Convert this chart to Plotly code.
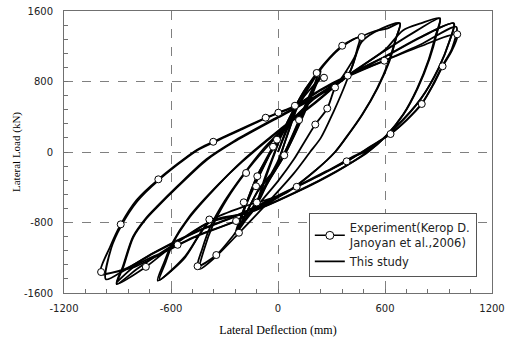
import plotly.graph_objects as go

# ---------------- data ----------------
# Experiment curve path (mm, kN)
exp_x = [0, 50, 100, 115, 85, 45, 0, -60, -110, -80, -30, 20, 80,
         150, 222, 205, 150, 90, 35, -40, -119, -235, -195, -140, -60, -28, 20, 120,
         250, 190, 118, 50, 0, -110, -230, -185, -116, -6, 100, 217,
         360, 469, 430, 370, 320, 276, 209, 150, 90, 0, -120, -220, -346, -451,
         -425, -380, -300, -200, -80, 60, 200, 391, 469, 580, 684,
         660, 620, 555, 470, 380, 320, 210, 40, -192, -385, -520, -665,
         -630, -589, -493, -325, -200, 0, 200, 391, 600, 780, 908,
         885, 845, 780, 700, 600, 500, 330, 100, -150, -385, -600, -741, -905,
         -870, -813, -740, -680, -560, -400, -250, 0, 200, 391, 600, 800, 985,
         960, 900, 800, 660, 520, 420, 250, 0, -250, -450, -700, -860, -995,
         -942, -882, -793, -671, -456, -363, -200, -69, 2, 95, 235, 391, 596, 800, 1005,
         975, 923, 870, 806, 720, 631, 520, 385, 250, 105, -80, -235, -450, -650, -800, -985]
exp_y = [0, 280, 520, 560, 380, 150, -100, -330, -540, -330, -60, 200, 450,
         700, 905, 750, 470, 190, -37, -290, -573, -920, -680, -420, -80, 60, 220, 560,
         870, 700, 363, 50, -150, -430, -900, -620, -275, 140, 480, 897,
         1206, 1305, 1080, 880, 732, 494, 312, 120, -80, -330, -620, -870, -1169, -1296,
         -1100, -850, -560, -270, 40, 330, 600, 866, 1250, 1400, 1460,
         1280, 1020, 720, 420, 160, 0, -210, -470, -620, -790, -1180, -1450,
         -1250, -1033, -734, -352, -100, 240, 550, 866, 1150, 1380, 1517,
         1330, 1050, 720, 420, 170, 0, -220, -460, -680, -800, -1080, -1303, -1495,
         -1300, -961, -750, -621, -380, -80, 120, 400, 620, 866, 1080, 1300, 1460,
         1250, 950, 600, 280, 40, -60, -250, -500, -740, -900, -1150, -1330, -1370,
         -1078, -821, -545, -310, 23, 116, 270, 389, 446, 525, 704, 866, 1036, 1200, 1336,
         1150, 973, 760, 545, 360, 204, 60, -106, -250, -395, -600, -783, -950, -1150, -1300, -1395]

# Experiment data markers
mark_x = [469, 360, 596, 1005, 923, 806, 631, 385, 391, 320, 258, 217, 276, 209, 118,
          95, 2, -69, -6, -28, 35, -363, -179, -116, -123, 105, -119, -192, -385,
          -671, -882, -992, -741, -563, -451, -346, -235, -219]
mark_y = [1305, 1206, 1036, 1336, 973, 545, 204, -106, 866, 732, 843, 897, 494, 312, 363,
          525, 446, 389, 140, 60, -37, 116, -238, -275, -389, -395, -573, -571, -766,
          -310, -821, -1362, -1303, -1053, -1296, -1169, -783, -916]

# This study (numerical model) path
st_x = [0, 60, 110, 80, 40, 0, -60, -105, -75, -25, 25, 85,
        155, 240, 210, 150, 85, 30, -50, -140, -240, -200, -145, -65, 15, 115,
        225, 190, 125, 65, -5, -115, -228, -180, -115, 0, 105, 225,
        350, 455, 430, 380, 310, 240, 180, 90, -60, -210, -350, -440,
        -415, -365, -285, -185, -70, 70, 210, 400, 469, 540, 610, 684,
        662, 625, 560, 475, 385, 320, 215, 45, -170, -380, -530, -675,
        -640, -595, -500, -330, -200, 0, 200, 395, 600, 700, 800, 908,
        890, 850, 785, 705, 605, 505, 335, 105, -145, -380, -600, -785, -905,
        -868, -812, -740, -680, -560, -400, -250, 0, 200, 395, 605, 805, 987,
        962, 903, 803, 663, 523, 423, 253, 5, -245, -445, -695, -860, -965,
        -935, -880, -790, -670, -460, -360, -200, -70, 0, 100, 240, 395, 600, 800, 1000,
        975, 925, 870, 808, 722, 633, 520, 390, 250, 105, -80, -235, -450, -650, -800, -905]
st_y = [0, 300, 540, 360, 120, -120, -350, -550, -330, -50, 220, 470,
        720, 920, 740, 450, 160, -60, -320, -620, -930, -690, -430, -100, 200, 540,
        890, 690, 380, 110, -170, -450, -890, -600, -260, 120, 490, 900,
        1180, 1300, 1060, 780, 450, 160, 0, -240, -580, -900, -1190, -1330,
        -1110, -830, -530, -240, 40, 340, 620, 900, 1300, 1370, 1400, 1460,
        1290, 1030, 730, 430, 170, 0, -200, -460, -690, -790, -1220, -1460,
        -1260, -1040, -740, -360, -110, 230, 540, 870, 1160, 1380, 1460, 1517,
        1340, 1060, 730, 430, 180, 0, -210, -450, -670, -790, -1070, -1320, -1500,
        -1310, -970, -760, -630, -390, -90, 110, 390, 610, 870, 1090, 1310, 1460,
        1260, 960, 610, 290, 50, -50, -240, -490, -730, -890, -1140, -1340, -1445,
        -1090, -840, -560, -320, 10, 110, 260, 380, 440, 520, 700, 860, 1040, 1220, 1420,
        1170, 990, 770, 555, 365, 210, 65, -100, -240, -390, -590, -780, -945, -1140, -1290, -1480]

x_ticks = [-1200, -600, 0, 600, 1200]
y_ticks = [-1600, -800, 0, 800, 1600]

exp_name = "Experiment(Kerop D.<br>Janoyan et al.,2006)"
st_name = "This study"

# ---------------- figure ----------------
fig = go.Figure()

fig.add_trace(go.Scatter(x=exp_x, y=exp_y, mode="lines", showlegend=False,
                         line=dict(color="black", width=1.8, shape="spline", smoothing=0.8),
                         hoverinfo="skip"))
fig.add_trace(go.Scatter(x=st_x, y=st_y, mode="lines", showlegend=False,
                         line=dict(color="black", width=1.8, shape="spline", smoothing=0.8),
                         hoverinfo="skip"))
fig.add_trace(go.Scatter(x=mark_x, y=mark_y, mode="markers", showlegend=False,
                         marker=dict(symbol="circle", size=7, color="white",
                                     line=dict(color="black", width=1)),
                         hoverinfo="skip"))
# legend entries
fig.add_trace(go.Scatter(x=[None], y=[None], mode="lines+markers", name=exp_name,
                         line=dict(color="black", width=1.5),
                         marker=dict(symbol="circle", size=8, color="white",
                                     line=dict(color="black", width=1))))
fig.add_trace(go.Scatter(x=[None], y=[None], mode="lines", name=st_name,
                         line=dict(color="black", width=1.8)))

axis_common = dict(
    showline=True, linecolor="#707070", linewidth=1, mirror=True,
    ticks="inside", ticklen=4, tickcolor="#707070",
    showgrid=True, gridcolor="#808080", griddash="dash", gridwidth=1,
    zeroline=False,
    tickfont=dict(family="DejaVu Sans", size=10, color="#222222"),
)

fig.update_xaxes(range=[-1200, 1200], tickvals=x_ticks,
                 ticktext=[str(v) for v in x_ticks],
                 minor=dict(dtick=120, tick0=0, ticks="inside", ticklen=4,
                            tickcolor="#707070", showgrid=False),
                 title=dict(text="Lateral Deflection (mm)",
                            font=dict(family="Liberation Serif", size=12, color="black")),
                 ticklabelstandoff=6, automargin=False,
                 **axis_common)
fig.update_yaxes(range=[-1600, 1600], tickvals=y_ticks,
                 ticktext=[str(v) for v in y_ticks],
                 minor=dict(dtick=160, tick0=0, ticks="inside", ticklen=4,
                            tickcolor="#707070", showgrid=False),
                 title=dict(text="Lateral Load (kN)",
                            font=dict(family="Liberation Serif", size=11, color="black"),
                            standoff=1),
                 ticklabelstandoff=8, automargin="left",
                 **axis_common)

fig.update_layout(
    width=509, height=337,
    margin=dict(l=64, r=17, t=11, b=44),
    paper_bgcolor="white", plot_bgcolor="white",
    hovermode=False,
    legend=dict(x=0.572, y=0.284, xanchor="left", yanchor="top",
                bgcolor="white", bordercolor="#555555", borderwidth=1,
                font=dict(family="DejaVu Sans", size=11.5, color="#222222"),
                tracegroupgap=2),
)

# remove the default page margin so the figure sits at the window's top-left corner
fig.write_html("out.html", config={"displayModeBar": False},
               post_script="document.body.style.margin='0';document.body.style.overflow='hidden';")
